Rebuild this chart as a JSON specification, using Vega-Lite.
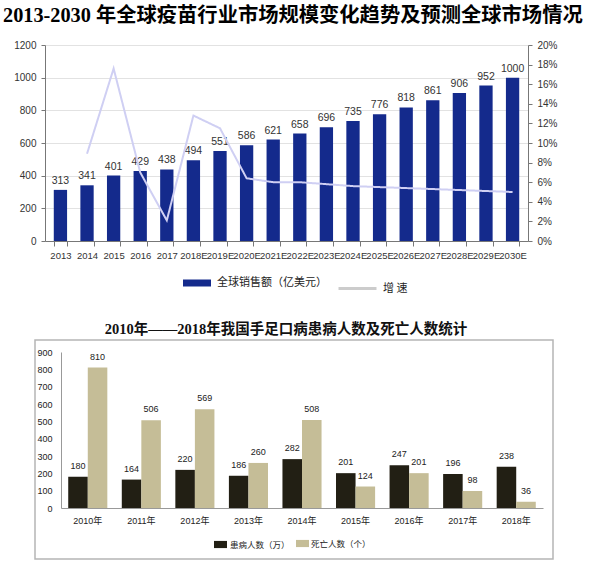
{
  "$schema": "https://vega.github.io/schema/vega-lite/v6.json",
  "padding": {"left": 3, "top": 5, "right": 36, "bottom": 0},
  "background": "white",
  "bounds": "flush",
  "spacing": 99,
  "config": {"view": {"stroke": null}, "font": "Liberation Sans"},
  "resolve": {
    "scale": {"fill": "independent", "opacity": "independent", "strokeDash": "independent"},
    "legend": {"fill": "independent", "opacity": "independent", "strokeDash": "independent"}
  },
  "vconcat": [
    {
      "title": {"text": "2013-2030 年全球疫苗行业市场规模变化趋势及预测全球市场情况", "anchor": "start", "frame": "group", "dx": -32, "fontSize": 20.3, "font": "Liberation Serif, Noto Sans CJK SC", "fontWeight": "bold", "color": "#000000", "offset": 14},
      "width": 493,
      "height": 196,
      "data": {"values": [
        {"year": "2013", "sales": 313, "growth": null},
        {"year": "2014", "sales": 341, "growth": 0.089},
        {"year": "2015", "sales": 401, "growth": 0.176},
        {"year": "2016", "sales": 429, "growth": 0.070},
        {"year": "2017", "sales": 438, "growth": 0.021},
        {"year": "2018E", "sales": 494, "growth": 0.128},
        {"year": "2019E", "sales": 551, "growth": 0.115},
        {"year": "2020E", "sales": 586, "growth": 0.064},
        {"year": "2021E", "sales": 621, "growth": 0.060},
        {"year": "2022E", "sales": 658, "growth": 0.060},
        {"year": "2023E", "sales": 696, "growth": 0.058},
        {"year": "2024E", "sales": 735, "growth": 0.056},
        {"year": "2025E", "sales": 776, "growth": 0.055},
        {"year": "2026E", "sales": 818, "growth": 0.054},
        {"year": "2027E", "sales": 861, "growth": 0.053},
        {"year": "2028E", "sales": 906, "growth": 0.052},
        {"year": "2029E", "sales": 952, "growth": 0.051},
        {"year": "2030E", "sales": 1000, "growth": 0.050}
      ]},
      "encoding": {
        "x": {"field": "year", "type": "ordinal", "sort": null,
          "scale": {"range": [10, 493], "paddingInner": 0.5, "paddingOuter": 0.33},
          "axis": {"title": null, "labelAngle": 0, "tickBand": "extent", "domainColor": "#777777", "tickColor": "#777777", "tickSize": 5, "labelPadding": 4, "labelFont": "Liberation Sans", "labelFontSize": 9.5, "labelColor": "#333333", "labelOverlap": false}}
      },
      "layer": [
        {
          "encoding": {
            "y": {"field": "sales", "type": "quantitative", "scale": {"domain": [0, 1200]},
              "axis": {"orient": "left", "offset": -10, "title": null, "format": "d", "values": [0, 200, 400, 600, 800, 1000, 1200], "labelOverlap": false, "grid": true, "gridColor": "#e2e2e2", "domainColor": "#777777", "tickColor": "#777777", "tickSize": 4, "labelPadding": 5, "labelFont": "Liberation Sans", "labelFontSize": 10, "labelColor": "#333333"}}
          },
          "layer": [
            {
              "mark": {"type": "bar"},
              "encoding": {
                "fill": {"datum": "全球销售额（亿美元）", "type": "nominal", "scale": {"range": ["#142a8c"]},
                  "legend": {"orient": "none", "legendX": 147, "legendY": 223, "title": null, "symbolType": "M-1,-0.25H1V0.25H-1Z", "symbolSize": 784, "labelFont": "Noto Sans CJK SC", "labelFontSize": 11, "labelColor": "#222222", "labelOffset": 5, "padding": 0}}
              }
            },
            {
              "mark": {"type": "text", "baseline": "bottom", "dy": -4, "font": "Liberation Sans", "fontSize": 10.5, "color": "#333333"},
              "encoding": {
                "text": {"field": "sales", "type": "quantitative"}
              }
            }
          ]
        },
        {
          "mark": {"type": "line", "strokeWidth": 2, "stroke": "#cfcff3"},
          "encoding": {
            "y": {"field": "growth", "type": "quantitative", "scale": {"domain": [0, 0.2]},
              "axis": {"orient": "right", "title": null, "format": ".0%", "values": [0, 0.02, 0.04, 0.06, 0.08, 0.1, 0.12, 0.14, 0.16, 0.18, 0.2], "labelOverlap": false, "grid": false, "domainColor": "#777777", "tickColor": "#777777", "tickSize": 4, "labelPadding": 5, "labelFont": "Liberation Sans", "labelFontSize": 10, "labelColor": "#333333"}},
            "strokeDash": {"datum": "增 速", "type": "nominal", "scale": {"range": [[1, 0]]},
              "legend": {"orient": "none", "legendX": 302, "legendY": 223, "title": null, "symbolType": "stroke", "symbolSize": 1444, "symbolStrokeWidth": 3, "symbolStrokeColor": "#cccccc", "labelFont": "Noto Sans CJK SC", "labelFontSize": 11, "labelColor": "#222222", "labelOffset": 5, "padding": 0}}
          }
        }
      ],
      "resolve": {"scale": {"y": "independent"}}
    },
    {
      "title": {"text": "2010年——2018年我国手足口病患病人数及死亡人数统计", "anchor": "middle", "frame": "group", "dx": -8, "fontSize": 14.5, "font": "Liberation Serif, Noto Sans CJK SC", "fontWeight": "bold", "color": "#111111", "offset": 3},
      "width": 518,
      "height": 219,
      "view": {"stroke": "#b5b5b5", "strokeWidth": 1.5},
      "data": {"values": [
        {"year": "2010年", "series": "患病", "value": 180},
        {"year": "2010年", "series": "死亡", "value": 810},
        {"year": "2011年", "series": "患病", "value": 164},
        {"year": "2011年", "series": "死亡", "value": 506},
        {"year": "2012年", "series": "患病", "value": 220},
        {"year": "2012年", "series": "死亡", "value": 569},
        {"year": "2013年", "series": "患病", "value": 186},
        {"year": "2013年", "series": "死亡", "value": 260},
        {"year": "2014年", "series": "患病", "value": 282},
        {"year": "2014年", "series": "死亡", "value": 508},
        {"year": "2015年", "series": "患病", "value": 201},
        {"year": "2015年", "series": "死亡", "value": 124},
        {"year": "2016年", "series": "患病", "value": 247},
        {"year": "2016年", "series": "死亡", "value": 201},
        {"year": "2017年", "series": "患病", "value": 196},
        {"year": "2017年", "series": "死亡", "value": 98},
        {"year": "2018年", "series": "患病", "value": 238},
        {"year": "2018年", "series": "死亡", "value": 36}
      ]},
      "encoding": {
        "x": {"field": "year", "type": "ordinal", "sort": null,
          "scale": {"range": [26, 508], "paddingInner": 0.27, "paddingOuter": 0.135},
          "axis": {"title": null, "offset": -51, "labelAngle": 0, "ticks": false, "tickSize": 0, "domainColor": "#999999", "labelPadding": 8, "labelFont": "Liberation Sans, Noto Sans CJK SC", "labelFontSize": 9, "labelColor": "#222222"}},
        "xOffset": {"field": "series", "type": "nominal", "scale": {"domain": ["患病", "死亡"], "paddingInner": 0}},
        "y": {"field": "value", "type": "quantitative", "scale": {"domain": [0, 900], "range": [168, 12]},
          "axis": {"title": null, "offset": -26, "values": [0, 100, 200, 300, 400, 500, 600, 700, 800, 900], "labelOverlap": false, "grid": false, "ticks": false, "tickSize": 0, "domainColor": "#999999", "labelPadding": 9, "labelFont": "Liberation Sans", "labelFontSize": 9, "labelColor": "#222222"}}
      },
      "layer": [
        {
          "transform": [{"filter": "datum.series === '患病'"}],
          "mark": {"type": "bar"},
          "encoding": {
            "fill": {"datum": "患病人数（万）", "type": "nominal", "scale": {"range": ["#221f14"]},
              "legend": {"orient": "none", "legendX": 178, "legendY": 197, "title": null, "symbolType": "M-1,-0.55H1V0.55H-1Z", "symbolSize": 169, "labelFont": "Noto Sans CJK SC", "labelFontSize": 8.5, "labelColor": "#222222", "labelOffset": 2, "padding": 0}}
          }
        },
        {
          "transform": [{"filter": "datum.series === '死亡'"}],
          "mark": {"type": "bar", "fill": "#c5bd97"},
          "encoding": {
            "opacity": {"datum": "死亡人数（个）", "type": "nominal", "scale": {"range": [1]},
              "legend": {"orient": "none", "legendX": 261, "legendY": 197, "title": null, "symbolType": "M-1,-0.55H1V0.55H-1Z", "symbolSize": 169, "symbolFillColor": "#c0c0c0", "symbolStrokeWidth": 0, "labelFont": "Noto Sans CJK SC", "labelFontSize": 8.5, "labelColor": "#222222", "labelOffset": 2, "padding": 0}}
          }
        },
        {
          "mark": {"type": "text", "baseline": "bottom", "dy": -6, "fontSize": 9, "color": "#222222"},
          "encoding": {"text": {"field": "value", "type": "quantitative"}}
        }
      ]
    }
  ]
}
